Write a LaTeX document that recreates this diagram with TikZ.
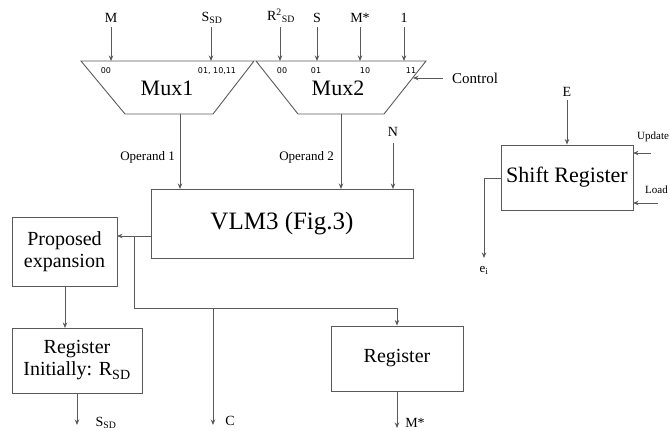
\documentclass[tikz,border=0pt]{standalone}
\usepackage{fontspec}
\setmainfont{Liberation Serif}
\newfontfamily\portfont{DejaVu Sans}
\usetikzlibrary{arrows.meta}
\definecolor{linegray}{HTML}{5A5A5A}
\begin{document}
\begin{tikzpicture}[x=1pt,y=-1pt,
  line/.style={draw=linegray, line width=0.9pt},
  arr/.style={line, -{Stealth[length=5.5pt,width=4.5pt]}},
  box/.style={draw=linegray, line width=0.9pt, inner sep=0pt, align=center},
  lbl/.style={font=\fontsize{14}{16}\selectfont, inner sep=0pt},
  small/.style={font=\fontsize{11}{13}\selectfont, inner sep=0pt, anchor=west},
  port/.style={font=\portfont\fontsize{8}{9}\selectfont, inner sep=0pt},
  muxlbl/.style={font=\fontsize{22}{24}\selectfont, inner sep=0pt},
  boxtxt/.style={font=\fontsize{20}{24}\selectfont}]
\useasboundingbox (0,0) rectangle (670,431);

% ---- multiplexers ----
\coordinate (m1a) at (81,61);  \coordinate (m1b) at (254,61);
\coordinate (m1c) at (213,114); \coordinate (m1d) at (125,114);
\coordinate (m2a) at (256,61); \coordinate (m2b) at (426,61);
\coordinate (m2c) at (384,114); \coordinate (m2d) at (298,114);
\draw[line] (m1a) -- (m1b) -- (m1c) -- (m1d) -- cycle;
\draw[line] (m2a) -- (m2b) -- (m2c) -- (m2d) -- cycle;
\node[muxlbl] (mux1) at (167,88) {Mux1};
\node[muxlbl] (mux2) at (338,88) {Mux2};

% port numbers
\node[port] (p100) at (106,71) {00};
\node[port] (p101) at (217,71) {01, 10,11};
\node[port] (p200) at (282,71) {00};
\node[port] (p201) at (316,71) {01};
\node[port] (p210) at (365,71) {10};
\node[port] (p211) at (411,71) {11};

% mux inputs
\node[lbl] (inM) at (111,18) {M};
\node[lbl] (inS1) at (212,18) {S\textsubscript{SD}};
\node[lbl] (inR) at (281,16) {R\textsuperscript{2}\textsubscript{SD}};
\node[lbl] (inS) at (317,18) {S};
\node[lbl] (inMs) at (360,18) {M*};
\node[lbl] (in1) at (404,18) {1};
\coordinate (tM) at (111,61);  \coordinate (tS1) at (211,61);
\coordinate (tR) at (280,61);  \coordinate (tS) at (317,61);
\coordinate (tMs) at (360,61); \coordinate (t1) at (404,61);
\draw[arr] (111,27) -- (tM);
\draw[arr] (211,27) -- (tS1);
\draw[arr] (280,27) -- (tR);
\draw[arr] (317,27) -- (tS);
\draw[arr] (360,27) -- (tMs);
\draw[arr] (404,27) -- (t1);

% control
\node[lbl, anchor=west, font=\fontsize{15}{17}\selectfont] (ctrl) at (452,78) {Control};
\coordinate (ctrlend) at (413,78);
\draw[arr] (ctrl.west) ++(-9,0) -- (ctrlend);

% ---- VLM3 ----
\node[box, minimum width=262pt, minimum height=69pt,
      font=\fontsize{25}{28}\selectfont] (vlm) at (282,223.5) {VLM3 (Fig.3)};
\coordinate (op1t) at (180,114); \coordinate (op1b) at (180,189);
\coordinate (op2t) at (341,114); \coordinate (op2b) at (341,189);
\draw[arr] (op1t) -- (op1b);
\draw[arr] (op2t) -- (op2b);
\node[lbl, font=\fontsize{13}{15}\selectfont, anchor=east] (op1) at (175,157) {Operand 1};
\node[lbl, font=\fontsize{13}{15}\selectfont, anchor=east] (op2) at (334,157) {Operand 2};
\node[lbl] (nin) at (393,132) {N};
\coordinate (nb) at (393,189);
\draw[arr] (393,143) -- (nb);

% ---- left chain ----
\node[box, boxtxt, minimum width=105pt, minimum height=69pt] (prop) at (64.5,251.5)
  {Proposed\\[-2pt]expansion};
\node[box, boxtxt, minimum width=130pt, minimum height=65pt] (rinit) at (77,360.5)
  {Register\\[-2pt]Initially: R\textsubscript{SD}};
\coordinate (vout) at (151,236);
\coordinate (pin) at (117,236);
\draw[arr] (vout) -- (pin);
\coordinate (br) at (134,236);
\coordinate (brd) at (134,308);
\coordinate (brr) at (397,308);
\coordinate (cbr) at (213,308);

% ---- right register ----
\node[box, boxtxt, minimum width=132pt, minimum height=65pt] (reg) at (397,358.5) {Register};
\draw[arr] (br) -- (brd) -- (brr) -- (reg.north);
\coordinate (cend) at (213,425);
\draw[arr] (cbr) -- (cend);
\node[lbl] (clab) at (230,421) {C};

\coordinate (pb) at (65,286); \coordinate (rt) at (65,328);
\draw[arr] (pb) -- (rt);
\coordinate (rib) at (77,393); \coordinate (rie) at (77,425);
\draw[arr] (rib) -- (rie);
\node[lbl] (ssd) at (106,423) {S\textsubscript{SD}};
\coordinate (mse) at (397,428);
\draw[arr] (reg.south) -- (mse);
\node[lbl] (msl) at (415,423) {M*};

% ---- shift register ----
\node[box, font=\fontsize{22}{24}\selectfont, minimum width=132pt, minimum height=65pt] (shift) at (567,177.5) {Shift Register};
\node[lbl] (ein) at (567,92) {E};
\draw[arr] (567,100) -- (shift.north);
\node[small] (upd) at (637,137) {Update};
\node[small] (load) at (645,190) {Load};
\coordinate (updt) at (633,153); \coordinate (loadt) at (633,203);
\draw[arr] (651,153) -- (updt);
\draw[arr] (658,203) -- (loadt);
\coordinate (so1) at (501,178); \coordinate (so2) at (484,178); \coordinate (so3) at (484,258);
\draw[arr] (so1) -- (so2) -- (so3);
\node[lbl, font=\fontsize{13}{15}\selectfont] (ei) at (484,270) {e\textsubscript{i}};
\end{tikzpicture}
\end{document}
